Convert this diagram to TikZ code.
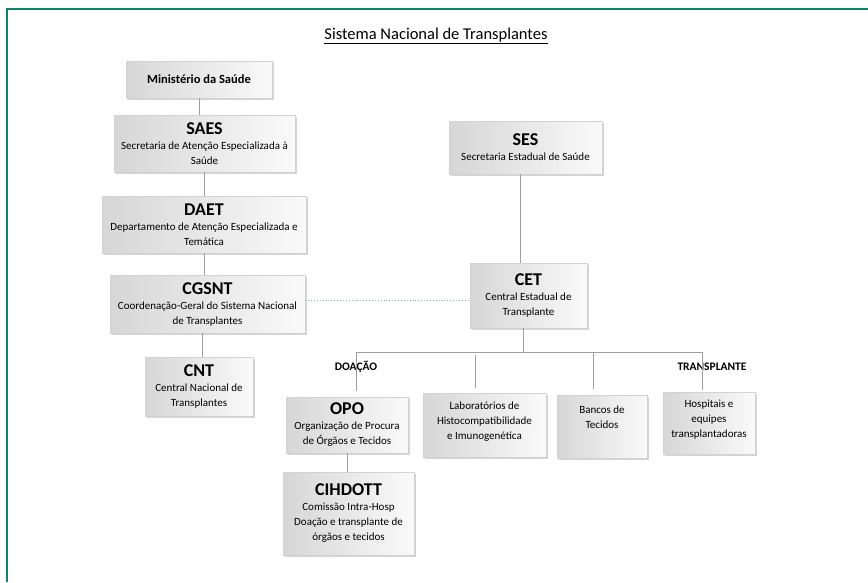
\documentclass[tikz,border=0pt]{standalone}
\usepackage{fontspec}
\setmainfont{Carlito}
\usetikzlibrary{shadows}
\definecolor{frameteal}{RGB}{22,128,112}
\definecolor{dotblue}{RGB}{140,168,192}
\newcommand{\hd}[1]{{\fontsize{18}{19}\selectfont\bfseries #1}}
\begin{document}
\begin{tikzpicture}[x=1pt, y=-1pt,
	block/.style={
		rectangle, draw=gray!35, thin,
		left color=gray!32, right color=gray!4,
		drop shadow={shadow xshift=2pt, shadow yshift=-2pt, fill=gray!65},
		inner sep=2pt, align=center, font=\fontsize{11}{15}\selectfont
	},
	line/.style={draw, gray!75, line width=1pt},
	link/.style={draw, dotblue, dotted, line width=0.9pt},
	branch/.style={font=\fontsize{11.5}{13}\selectfont\bfseries},
	]
	\useasboundingbox (0,0) rectangle (868,582);
	\draw [frameteal, line width=2pt] (7,582) -- (7,9) -- (868,9);

	\node [font=\fontsize{16.5}{19}\selectfont] (title) at (436,36) {\underline{Sistema Nacional de Transplantes}};

	% federal side
	\node [block, minimum width=146pt, minimum height=37pt] (ms) at (199,79.5) {\textbf{\fontsize{12.5}{14}\selectfont Ministério da Saúde}};
	\node [block, minimum width=181pt, minimum height=57pt] (saes) at (204.5,143.5) {\hd{SAES}\\Secretaria de Atenção Especializada à\\Saúde};
	\node [block, minimum width=204pt, minimum height=57pt] (daet) at (204,224.5) {\hd{DAET}\\Departamento de Atenção Especializada e\\Temática};
	\node [block, minimum width=195pt, minimum height=58pt] (cgsnt) at (207.5,304) {\hd{CGSNT}\\Coordenação-Geral do Sistema Nacional\\de Transplantes};
	\node [block, minimum width=108pt, minimum height=59pt] (cnt) at (199,386.5) {\hd{CNT}\\Central Nacional de\\Transplantes};

	% state side
	\node [block, minimum width=153pt, minimum height=53pt] (ses) at (525.5,147.5) {\hd{SES}\\Secretaria Estadual de Saúde};
	\node [block, minimum width=117pt, minimum height=65pt] (cet) at (528.5,295.5) {\hd{CET}\\Central Estadual de\\Transplante};
	\node [block, minimum width=122pt, minimum height=56pt] (opo) at (347,425) {\hd{OPO}\\Organização de Procura\\de Órgãos e Tecidos};
	\node [block, minimum width=131pt, minimum height=83pt] (cihdott) at (348.5,513.5) {\hd{CIHDOTT}\\Comissão Intra-Hosp\\Doação e transplante de\\órgãos e tecidos};
	\node [block, minimum width=123pt, minimum height=64pt] (lab) at (484.5,425) {Laboratórios de\\Histocompatibilidade\\e Imunogenética\\[-6pt]\mbox{}};
	\node [block, minimum width=90pt, minimum height=63pt] (bank) at (602,426.5) {Bancos de\\Tecidos\\[4pt]\mbox{}};
	\node [block, minimum width=92pt, minimum height=62pt] (hosp) at (709,423) {Hospitais e\\equipes\\transplantadoras\\[-6pt]\mbox{}};

	\node [branch] (doa) at (356,367) {DOAÇÃO};
	\node [branch] (trans) at (712,367) {TRANSPLANTE};

	% bus below CET
	\coordinate (cetb) at (523,352);
	\coordinate (b1) at (356,352);
	\coordinate (b2) at (475,355);
	\coordinate (b3) at (593,352);
	\coordinate (b4) at (702,352);

	\path [line] (ms.south) -- (ms.south |- saes.north);
	\path [line] (saes.south) -- (saes.south |- daet.north);
	\path [line] (daet.south) -- (daet.south |- cgsnt.north);
	\path [line] ([xshift=-5pt]cgsnt.south) -- ([xshift=-5pt]cgsnt.south |- cnt.north);
	\path [line] ([xshift=-5pt]ses.south) -- ([xshift=-5pt]ses.south |- cet.north);
	\path [line] (cetb |- cet.south) -- (cetb);
	\path [line] (b1) -- (b4);
	\path [line, shorten >=6pt] (b1) -- (b1 |- opo.north);
	\path [line, shorten >=5pt] (b2) -- (b2 |- lab.north);
	\path [line, shorten >=6pt] (b3) -- (b3 |- bank.north);
	\path [line, shorten >=2pt] (b4) -- (b4 |- hosp.north);
	\path [line] (opo.south) -- (opo.south |- cihdott.north);
	\path [link] (cgsnt.east |- 0,300) -- (cet.west |- 0,300);
\end{tikzpicture}
\end{document}
